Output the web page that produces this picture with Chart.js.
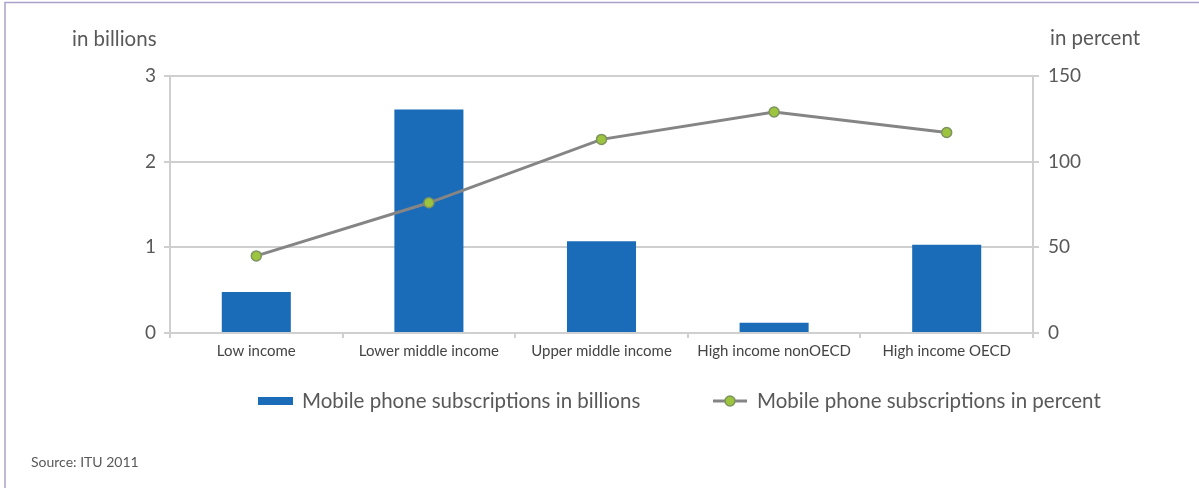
<!DOCTYPE html>
<html>
<head>
<meta charset="utf-8">
<script src="https://cdn.jsdelivr.net/npm/chart.js@4/dist/chart.umd.min.js"></script>
<style>
  html, body { margin: 0; padding: 0; background: #ffffff; }
  canvas { display: block; }
</style>
</head>
<body>
<canvas id="myChart" width="1199" height="488"></canvas>
<script>
// data
const categories = ["Low income", "Lower middle income", "Upper middle income", "High income nonOECD", "High income OECD"];
const billions = [0.48, 2.61, 1.07, 0.12, 1.03];
const percent = [45, 76, 113, 129, 117];
const leftTicks = [0, 1, 2, 3];
const rightTicks = [0, 50, 100, 150];
const barLabel = "Mobile phone subscriptions in billions";
const lineLabel = "Mobile phone subscriptions in percent";

const FONT = "Lato, 'Open Sans', sans-serif";
const textColor = "#595959";
const gridColor = "#cfcfcf";
const barColor = "#1b6cb8";
const lineColor = "#858585";
const dotColor = "#9cc43e";

// axis titles, legend, source note and frame
const extras = {
  id: "extras",
  afterDraw(chart) {
    const ctx = chart.ctx;
    ctx.save();
    // frame (top and left edges only)
    ctx.strokeStyle = "#aaa1c9";
    ctx.lineWidth = 1.5;
    ctx.beginPath();
    ctx.moveTo(5, 488);
    ctx.lineTo(5, 2.5);
    ctx.lineTo(1199, 2.5);
    ctx.stroke();

    ctx.fillStyle = textColor;
    ctx.textBaseline = "middle";
    ctx.font = "20.5px " + FONT;
    ctx.textAlign = "left";
    ctx.fillText("in billions", 72, 39);
    ctx.fillText("in percent", 1050, 38);

    // legend
    const ly = 401;
    ctx.fillStyle = barColor;
    ctx.fillRect(258, ly - 4, 35, 8);
    ctx.fillStyle = textColor;
    ctx.fillText(barLabel, 302, ly);

    ctx.strokeStyle = lineColor;
    ctx.lineWidth = 3;
    ctx.beginPath();
    ctx.moveTo(713, ly);
    ctx.lineTo(747, ly);
    ctx.stroke();
    ctx.beginPath();
    ctx.arc(730, ly, 5, 0, Math.PI * 2);
    ctx.fillStyle = dotColor;
    ctx.fill();
    ctx.lineWidth = 1.5;
    ctx.strokeStyle = "#7d9360";
    ctx.stroke();
    ctx.fillStyle = textColor;
    ctx.fillText(lineLabel, 757, ly);

    ctx.font = "14px " + FONT;
    ctx.fillText("Source: ITU 2011", 31, 462);
    ctx.restore();
  }
};

const data = {
  labels: categories,
  datasets: [
    {
      type: "line",
      label: lineLabel,
      data: percent,
      yAxisID: "y1",
      borderColor: lineColor,
      borderWidth: 3,
      pointRadius: 5,
      pointBackgroundColor: dotColor,
      pointBorderColor: "#7d9360",
      pointBorderWidth: 1.5,
      tension: 0,
      order: 0
    },
    {
      type: "bar",
      label: barLabel,
      data: billions,
      yAxisID: "y",
      backgroundColor: barColor,
      categoryPercentage: 1,
      barPercentage: 0.4,
      order: 1
    }
  ]
};

const config = {
  type: "bar",
  data: data,
  plugins: [extras],
  options: {
    responsive: false,
    animation: false,
    devicePixelRatio: 1,
    layout: { padding: { top: 76, bottom: 115, left: 0, right: 0 } },
    plugins: { legend: { display: false }, tooltip: { enabled: false } },
    scales: {
      x: {
        offset: true,
        grid: { display: true, drawOnChartArea: false, offset: true, color: gridColor, lineWidth: 2, tickLength: 5 },
        border: { display: true, color: gridColor, width: 2 },
        ticks: { color: "#444444", font: { family: FONT, size: 15 }, padding: 4, maxRotation: 0 },
        afterFit(scale) { scale.height = 40; }
      },
      y: {
        position: "left",
        min: 0,
        max: 3,
        afterBuildTicks(scale) { scale.ticks = leftTicks.map(v => ({ value: v })); },
        grid: { color: gridColor, lineWidth: 2, tickLength: 6 },
        border: { display: true, color: gridColor, width: 2 },
        ticks: { color: textColor, font: { family: FONT, size: 19 }, padding: 8 },
        afterFit(scale) { scale.width = 170; }
      },
      y1: {
        position: "right",
        min: 0,
        max: 150,
        afterBuildTicks(scale) { scale.ticks = rightTicks.map(v => ({ value: v })); },
        grid: { drawOnChartArea: false, color: gridColor, lineWidth: 2, tickLength: 6 },
        border: { display: true, color: gridColor, width: 2 },
        ticks: { color: textColor, font: { family: FONT, size: 19 }, padding: 9 },
        afterFit(scale) { scale.width = 166; }
      }
    }
  }
};

const myChart = new Chart(document.getElementById("myChart"), config);
</script>
</body>
</html>
